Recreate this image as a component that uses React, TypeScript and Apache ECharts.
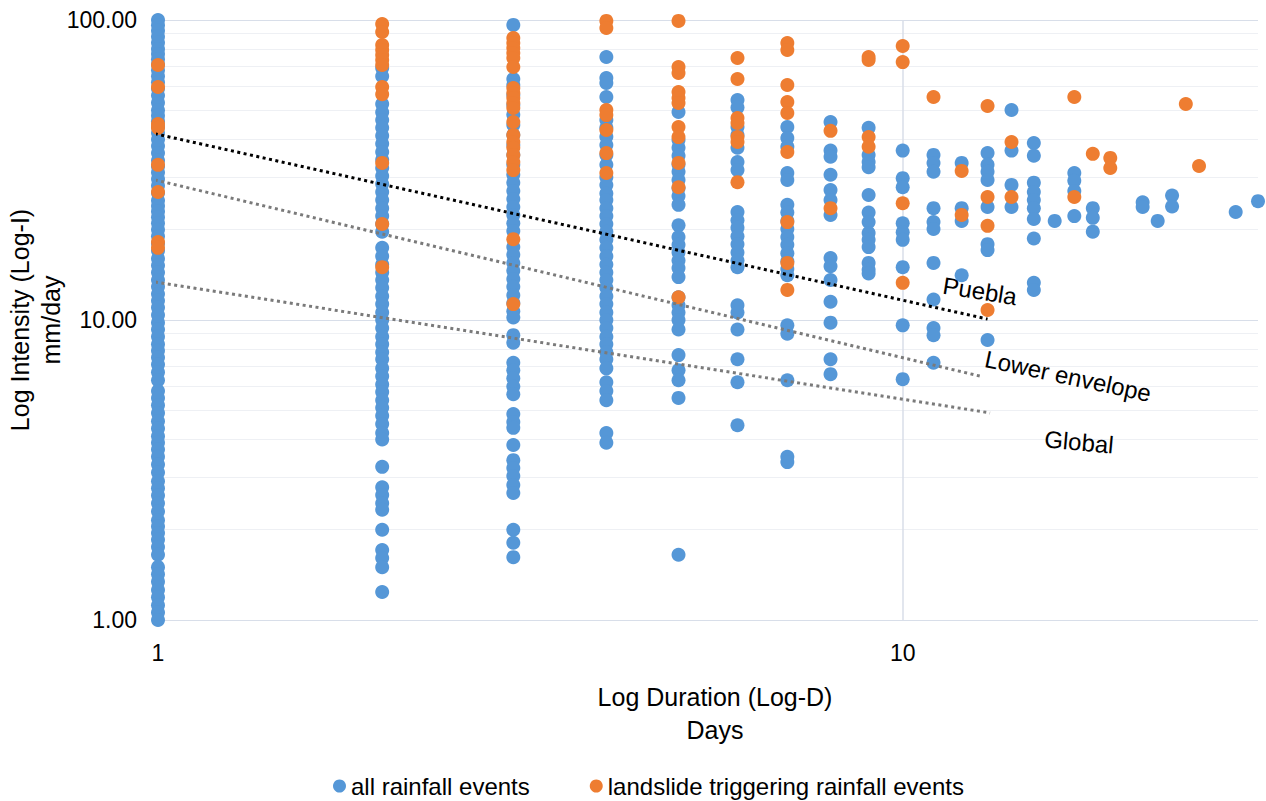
import React, { useEffect, useRef } from "react";
import * as echarts from "echarts";

// Durations (days) for each column of points
const durations = [1, 2, 3, 4, 5, 6, 7, 8, 9, 10, 11, 12, 13, 14, 15, 16, 17, 18, 19, 21, 22, 23, 24, 25, 28, 30];

// All rainfall events: intensity (mm/day) per duration column
const allRainfall: number[][] = [
  [100, 96, 92, 88, 84, 80, 77, 74, 71, 68, 65, 62, 59, 56, 53, 50, 48, 46, 44, 42, 40, 38, 36, 34, 32.5, 31, 29.5, 28, 26.5, 25, 24, 23, 22, 21, 20, 19, 18, 17, 16, 15.2, 14.4, 13.6, 12.9, 12.2, 11.6, 11, 10.4, 9.8, 9.3, 8.8, 8.3, 7.9, 7.5, 7.1, 6.7, 6.3, 5.8, 5.5, 5.2, 4.9, 4.6, 4.35, 4.1, 3.9, 3.7, 3.5, 3.3, 3.1, 2.9, 2.75, 2.6, 2.45, 2.3, 2.15, 2.05, 1.95, 1.85, 1.75, 1.65, 1.5, 1.42, 1.34, 1.26, 1.19, 1.12, 1.06, 1.0],
  [69.2, 65, 52.5, 49.3, 46.4, 43.7, 41.1, 38.7, 36.3, 34.2, 32.1, 30.2, 28.4, 26.7, 25.1, 23.6, 22.2, 20.9, 19.7, 17.4, 16.3, 15.3, 14.4, 13.6, 12.8, 12.0, 11.3, 10.6, 10.0, 9.4, 8.8, 8.3, 7.8, 7.4, 6.9, 6.5, 6.1, 5.75, 5.4, 5.1, 4.8, 4.5, 4.2, 4.0, 3.24, 2.77, 2.61, 2.45, 2.33, 2.0, 1.71, 1.61, 1.5, 1.24],
  [96.3, 63.6, 60.7, 56.2, 52.1, 48.3, 44.7, 41.4, 38.3, 35.5, 32.9, 30.5, 28.7, 26.9, 25.3, 23.8, 22.4, 21.0, 19.8, 17.5, 16.5, 15.5, 14.6, 13.7, 12.9, 12.1, 11.4, 10.7, 10.2, 8.9, 8.4, 7.2, 6.8, 6.4, 6.0, 5.66, 4.86, 4.57, 4.37, 3.83, 3.41, 3.21, 3.02, 2.82, 2.65, 2.0, 1.81, 1.62],
  [75.3, 64.1, 61.7, 55.4, 46.4, 43.7, 40.8, 38.3, 35.5, 32.9, 29.9, 28.2, 26.4, 25.1, 23.6, 22.2, 20.9, 19.7, 18.5, 17.4, 16.3, 15.3, 14.4, 13.6, 12.8, 12.0, 11.3, 10.6, 10.0, 9.4, 8.8, 8.3, 7.8, 7.4, 6.9, 6.2, 5.8, 5.4, 4.2, 3.9],
  [49.4, 39.8, 37.5, 35.3, 33.0, 31.2, 29.3, 27.5, 25.9, 24.2, 20.7, 18.9, 17.8, 16.8, 15.8, 14.9, 13.9, 11.9, 11.2, 10.6, 10.0, 9.3, 7.64, 6.8, 6.3, 5.5, 1.65],
  [54.1, 51.1, 44.0, 41.4, 37.5, 33.6, 31.6, 22.9, 21.5, 20.3, 19.0, 17.9, 16.8, 15.8, 15.0, 11.2, 10.6, 9.3, 7.4, 6.2, 4.46],
  [44.0, 40.4, 37.8, 30.9, 29.3, 24.2, 22.8, 21.4, 20.1, 18.9, 17.8, 16.7, 15.7, 14.8, 14.1, 9.6, 9.0, 6.3, 3.5, 3.36],
  [45.7, 36.7, 35.0, 30.5, 27.1, 25.1, 22.4, 16.1, 15.1, 13.6, 11.5, 9.8, 7.4, 6.6],
  [43.7, 35.5, 33.6, 32.3, 26.1, 22.8, 21.2, 19.5, 18.5, 17.5, 15.5, 14.7, 14.3],
  [36.7, 29.7, 27.7, 21.0, 19.6, 18.5, 15.0, 9.6, 6.35],
  [35.5, 33.4, 31.2, 23.6, 21.2, 20.1, 15.5, 11.7, 9.4, 8.9, 7.2],
  [33.4, 23.6, 21.4, 14.1],
  [36.0, 32.9, 31.2, 29.3, 23.8, 17.9, 17.1, 8.58],
  [50.1, 36.7, 28.2, 23.8],
  [38.9, 35.3, 28.7, 26.7, 25.1, 23.6, 21.7, 18.7, 13.3, 12.6],
  [21.4],
  [30.9, 29.1, 26.9, 22.2],
  [23.6, 21.9, 19.7],
  [],
  [24.7, 23.8],
  [21.4],
  [26.0, 23.9],
  [],
  [],
  [22.9],
  [24.9],
];

// Landslide triggering rainfall events: intensity (mm/day) per duration column
const landslideRainfall: number[][] = [
  [70.8, 59.8, 45, 43.7, 32.9, 26.7, 18.2, 17.4],
  [97, 91.2, 82.5, 79.4, 76.4, 73.6, 70.8, 59.8, 56.6, 33.4, 20.9, 15.0],
  [87.1, 83.8, 80.6, 77.6, 74.7, 69.7, 59.3, 57.1, 55.0, 52.9, 50.9, 45.7, 41.4, 39.2, 37.5, 35.5, 33.6, 31.6, 18.6, 11.3],
  [99.3, 94.0, 50.1, 48.2, 43.0, 36.0, 30.9],
  [99.3, 69.7, 66.6, 57.5, 55.0, 52.9, 44.0, 40.7, 33.4, 27.7, 11.9],
  [74.7, 63.6, 47.1, 45.4, 40.7, 39.2, 28.8],
  [83.8, 79.4, 60.7, 53.3, 49.0, 36.3, 21.2, 15.5, 12.6],
  [42.7, 23.6],
  [75.3, 73.6, 40.7, 37.8],
  [81.9, 72.4, 24.5, 13.3],
  [55.4],
  [31.4, 22.4],
  [51.7, 25.7, 20.6, 10.8],
  [39.2, 25.7],
  [],
  [],
  [55.4, 25.7],
  [35.8],
  [34.7, 32.1],
  [],
  [],
  [],
  [52.5],
  [32.6],
  [],
  [],
];

// Threshold lines: [duration, intensity] end points
const pueblaLine = [[0.952, 42.7], [13.0, 10.07]];
const lowerEnvelopeLine = [[0.952, 30.0], [12.7, 6.5]];
const globalLine = [[0.952, 13.6], [13.1, 4.9]];

// Axis ticks
const yMinorGrid = [2, 3, 4, 5, 6, 7, 8, 9, 20, 30, 40, 50, 60, 70, 80, 90];
const xMajorGrid = [10];

const FONT = "Liberation Sans, Arial, sans-serif";

function toPoints(cols: number[][]) {
  const pts: number[][] = [];
  cols.forEach((vals, i) => vals.forEach((v) => pts.push([durations[i], v])));
  return pts;
}

export default function App() {
  const ref = useRef<HTMLDivElement>(null);
  useEffect(() => {
    if (!ref.current) return;
    const chart = echarts.init(ref.current, null, { renderer: "svg" });
    const blue = "#5597d7";
    const orange = "#ee7d31";
    chart.setOption({
      animation: false,
      textStyle: { fontFamily: FONT },
      grid: { left: 158, right: 8, top: 20, bottom: 181, containLabel: false, outerBoundsMode: "none" },
      legend: {
        left: 328,
        top: 769,
        icon: "circle",
        itemWidth: 13,
        itemHeight: 13,
        itemGap: 60,
        textStyle: { fontSize: 24, color: "#000", fontFamily: FONT },
        data: ["all rainfall events", "landslide triggering rainfall events"],
      },
      xAxis: {
        type: "log",
        logBase: 10,
        min: 1,
        max: 30,
        axisLine: { show: false },
        axisTick: { show: false },
        splitLine: { show: false },
        axisLabel: {
          fontSize: 23,
          color: "#000",
          margin: 21,
          showMaxLabel: false,
          formatter: (v: number) => String(Math.round(v)),
        },
        name: "Log Duration (Log-D)\nDays",
        nameLocation: "middle",
        nameGap: 60,
        nameMoveOverlap: false,
        nameTextStyle: { fontSize: 25, color: "#000", fontFamily: FONT, lineHeight: 33, padding: [0, 0, 0, 14] },
      },
      yAxis: {
        type: "log",
        logBase: 10,
        min: 1,
        max: 100,
        axisLine: { show: false },
        axisTick: { show: false },
        splitLine: { show: true, lineStyle: { color: "#d8dee9", width: 1 } },
        axisLabel: {
          fontSize: 23,
          color: "#000",
          margin: 21,
          formatter: (v: number) => Number(v).toFixed(2),
        },
        name: "Log Intensity (Log-I)\nmm/day",
        nameLocation: "middle",
        nameRotate: 90,
        nameGap: 92,
        nameMoveOverlap: false,
        nameTextStyle: { fontSize: 25, color: "#000", fontFamily: FONT, lineHeight: 31 },
      },
      series: [
        {
          name: "grid",
          type: "scatter",
          data: [],
          z: 0,
          silent: true,
          markLine: {
            silent: true,
            z: 1,
            symbol: ["none", "none"],
            label: { show: false },
            emphasis: { disabled: true },
            data: [
              ...yMinorGrid.map((v) => ({ yAxis: v, lineStyle: { color: "#eef0f4", width: 1, type: "solid" } })),
              ...xMajorGrid.map((v) => ({ xAxis: v, lineStyle: { color: "#d8dee9", width: 1.5, type: "solid" } })),
            ],
          },
        },
        {
          name: "all rainfall events",
          type: "scatter",
          symbol: "circle",
          symbolSize: 14,
          itemStyle: { color: blue, opacity: 1 },
          z: 2,
          data: toPoints(allRainfall),
        },
        {
          name: "landslide triggering rainfall events",
          type: "scatter",
          symbol: "circle",
          symbolSize: 14,
          itemStyle: { color: orange, opacity: 1 },
          z: 3,
          data: toPoints(landslideRainfall),
        },
        {
          name: "Puebla",
          type: "line",
          data: pueblaLine,
          showSymbol: false,
          symbol: "none",
          clip: false,
          silent: true,
          z: 5,
          lineStyle: { color: "#000", width: 3, type: [3, 3.5], cap: "butt" },
        },
        {
          name: "Lower envelope",
          type: "line",
          data: lowerEnvelopeLine,
          showSymbol: false,
          symbol: "none",
          clip: false,
          silent: true,
          z: 5,
          lineStyle: { color: "#7a7a7a", width: 3, type: [3, 3.5], cap: "butt" },
        },
        {
          name: "Global",
          type: "line",
          data: globalLine,
          showSymbol: false,
          symbol: "none",
          clip: false,
          silent: true,
          z: 5,
          lineStyle: { color: "#7a7a7a", width: 3, type: [3, 3.5], cap: "butt" },
        },
      ],
      graphic: [
        {
          type: "text",
          x: 980,
          y: 291,
          rotation: -0.16,
          z: 10,
          style: { text: "Puebla", fontSize: 24, fill: "#000", fontFamily: FONT, align: "center", verticalAlign: "middle" },
        },
        {
          type: "text",
          x: 1068,
          y: 376,
          rotation: -0.21,
          z: 10,
          style: { text: "Lower envelope", fontSize: 24, fill: "#000", fontFamily: FONT, align: "center", verticalAlign: "middle" },
        },
        {
          type: "text",
          x: 1079,
          y: 442,
          rotation: -0.09,
          z: 10,
          style: { text: "Global", fontSize: 24, fill: "#000", fontFamily: FONT, align: "center", verticalAlign: "middle" },
        },
      ],
    });
    return () => chart.dispose();
  }, []);
  return (
    <div
      ref={ref}
      style={{ position: "fixed", left: 0, top: 0, width: 1266, height: 801, background: "#fff" }}
    />
  );
}
